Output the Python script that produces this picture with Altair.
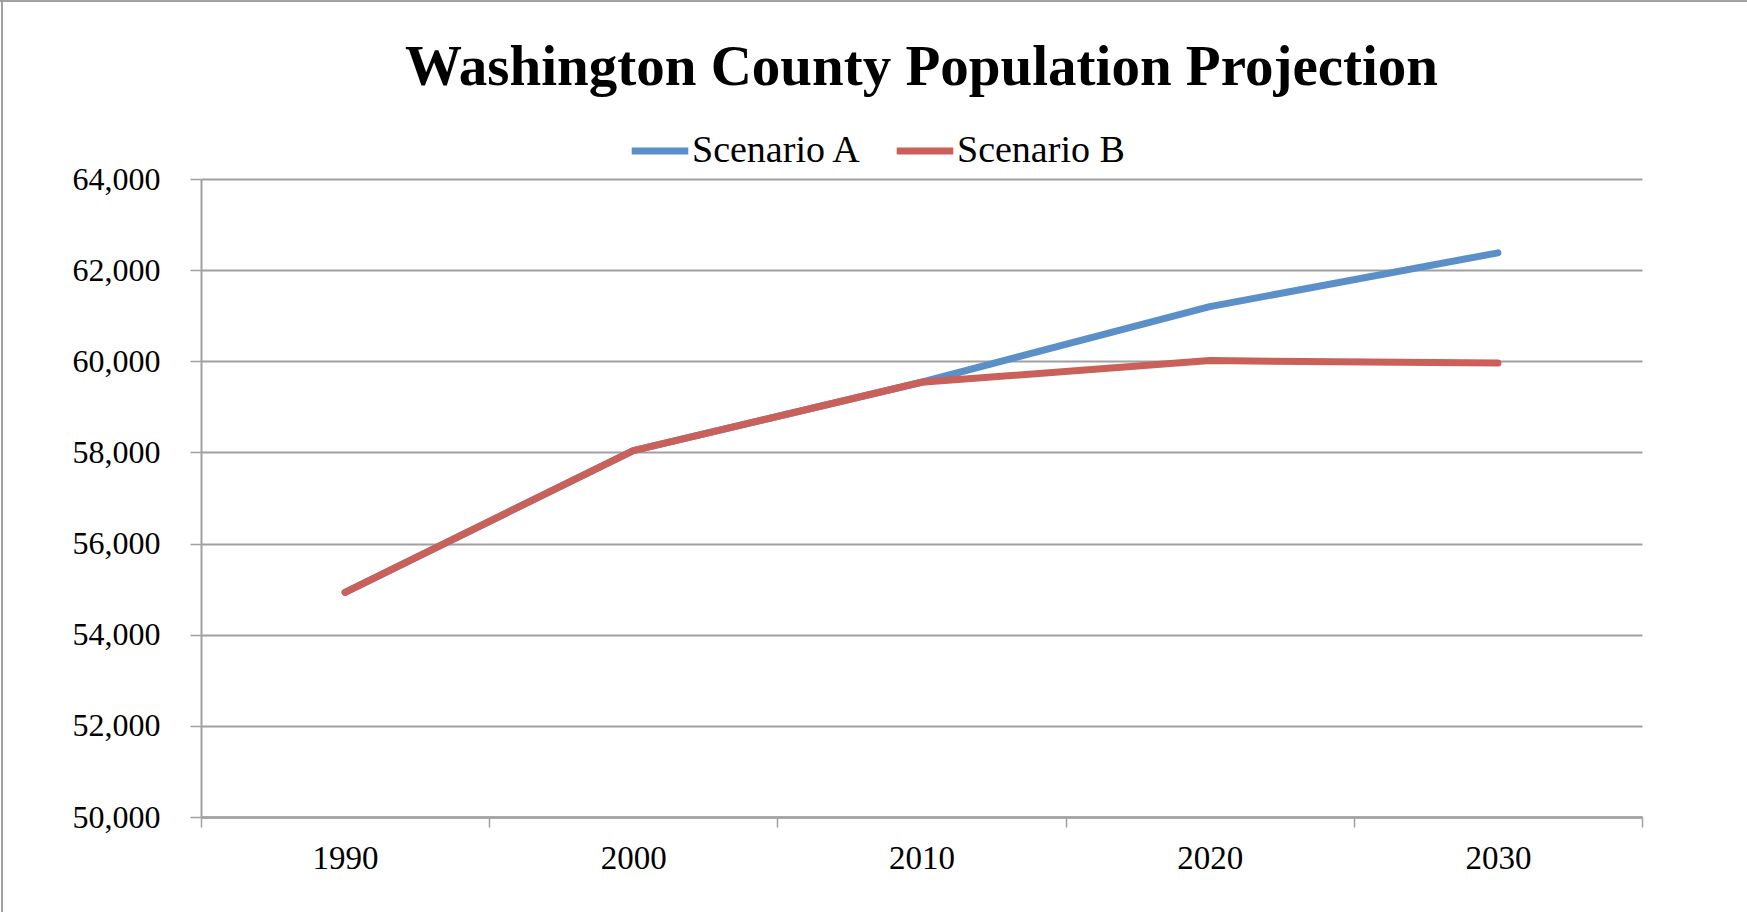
import altair as alt
import pandas as pd

years = ["1990", "2000", "2010", "2020", "2030"]
scenario_a = [54930, 58040, 59540, 61200, 62380]
scenario_b = [54930, 58040, 59540, 60015, 59960]
series_names = ["Scenario A", "Scenario B"]
y_ticks = [50000, 52000, 54000, 56000, 58000, 60000, 62000, 64000]

rows = []
for name, vals in zip(series_names, [scenario_a, scenario_b]):
    for yr, v in zip(years, vals):
        rows.append({"Year": yr, "Population": v, "Series": name})
df = pd.DataFrame(rows)

GRAY = "#a0a0a0"
FONT = "Liberation Serif"

lines = alt.Chart(df).mark_line(strokeWidth=7, strokeCap="round", strokeJoin="round").encode(
    x=alt.X("Year:O", title=None, bandPosition=0.5,
            scale=alt.Scale(type="band", paddingInner=0, paddingOuter=0),
            axis=alt.Axis(tickBand="extent", labelAngle=0, tickSize=10, tickColor=GRAY,
                          tickWidth=1.5, domainColor=GRAY, domainWidth=2.5, grid=False,
                          labelFont=FONT, labelFontSize=33, labelColor="black",
                          labelPadding=15)),
    y=alt.Y("Population:Q", title=None,
            scale=alt.Scale(domain=[50000, 64000], nice=False, zero=False),
            axis=alt.Axis(values=y_ticks, labelExpr="format(datum.value, ',')",
                          tickSize=11, tickColor=GRAY,
                          tickWidth=1.5, domainColor=GRAY, domainWidth=2, gridColor=GRAY,
                          gridWidth=1.8, labelFont=FONT, labelFontSize=32,
                          labelColor="black", labelPadding=30)),
    color=alt.Color("Series:N", title=None,
                    scale=alt.Scale(domain=series_names, range=["#5b8fc8", "#c9605a"]),
                    legend=alt.Legend(orient="none", direction="horizontal",
                                      legendX=427, legendY=-60,
                                      symbolType="stroke", symbolSize=3200,
                                      symbolStrokeWidth=7, labelFont=FONT,
                                      labelFontSize=38, labelColor="black",
                                      labelLimit=0, labelOffset=0, columnPadding=20)),
)

top_border = alt.Chart(df).mark_rule(color=GRAY, strokeWidth=2).encode(
    x=alt.value(-201), x2=alt.value(1546), y=alt.value(-178)
)
left_border = alt.Chart(df).mark_rule(color=GRAY, strokeWidth=2).encode(
    x=alt.value(-199), y=alt.value(-179), y2=alt.value(733)
)

chart = alt.layer(lines, top_border, left_border).properties(
    width=1441,
    height=638,
    autosize=alt.AutoSizeParams(type="none"),
    padding={"left": 201, "top": 179, "right": 105, "bottom": 95},
    title=alt.Title("Washington County Population Projection", font=FONT, fontSize=57,
                    fontWeight="bold", color="black", anchor="middle", frame="group",
                    baseline="alphabetic", offset=-143),
).configure_view(stroke=None)

chart.save("out.html", embed_options={"renderer": "svg", "actions": False})
